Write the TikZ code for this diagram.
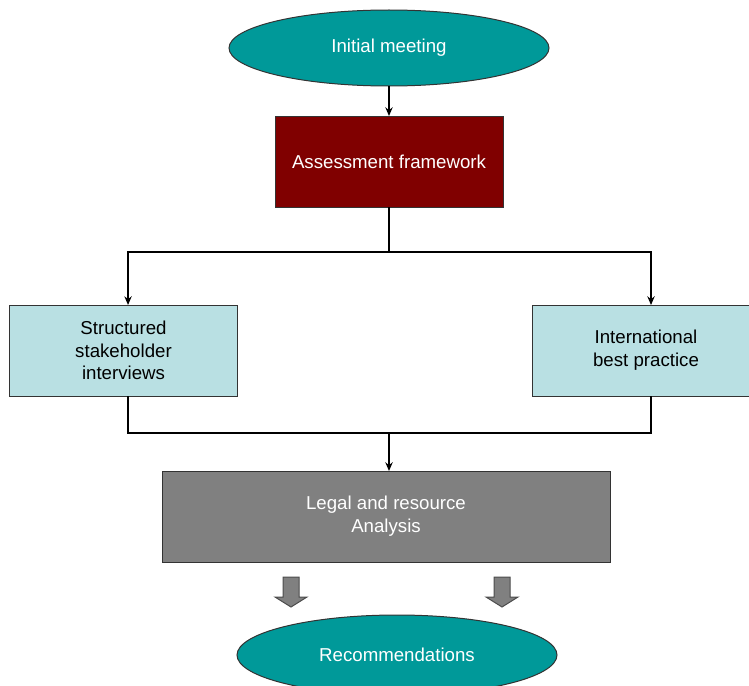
\documentclass[tikz,border=0pt]{standalone}
\usepackage{fontspec}
\setmainfont{Liberation Sans}
\usepackage{tikz}
\usetikzlibrary{arrows.meta,shapes.geometric}

\definecolor{tealfill}{HTML}{009999}
\definecolor{darkred}{HTML}{800000}
\definecolor{paleblue}{HTML}{B9E0E3}
\definecolor{midgray}{HTML}{808080}

\begin{document}
\begin{tikzpicture}[x=0.75pt,y=-0.75pt]
\tikzstyle{oval}=[ellipse,draw=black!80,line width=0.75pt,fill=tealfill,text=white,minimum width=240pt,minimum height=57pt,inner sep=0,outer sep=0,font=\fontsize{14}{17}\selectfont]
\tikzstyle{box}=[rectangle,draw=black!80,line width=0.75pt,minimum height=68.25pt,inner sep=0,outer sep=0,align=center,font=\fontsize{14}{17}\selectfont]
\tikzstyle{conn}=[line width=1.5pt,-{Stealth[length=6.5pt,width=5.5pt]}]
\tikzstyle{line}=[line width=1.5pt]
\tikzstyle{fat}=[draw=black!70,fill=midgray,line width=0.75pt]
\useasboundingbox (0,0) rectangle (749,685);
\node[oval] (init) at (389,48) {Initial meeting};
\node[box,fill=darkred,text=white,minimum width=171pt] (assess) at (389,161.5) {Assessment framework};
\node[box,fill=paleblue,minimum width=171pt] (stake) at (123.5,350.5) {Structured\\stakeholder\\interviews};
\node[box,fill=paleblue,minimum width=170pt] (best) at (646,350.5) {International\\best practice};
\node[box,fill=midgray,text=white,minimum width=336pt] (legal) at (386,516.5) {Legal and resource\\Analysis};
\node[oval,minimum height=60pt] (recom) at (397,655) {Recommendations};
\coordinate (split) at (389,252);
\coordinate (join) at (389,433);
\draw[conn] (init) -- (assess);
\draw[line] (assess) -- (split);
\draw[conn] (split) -| ([xshift=3.4pt]stake.north);
\draw[conn] (split) -| ([xshift=3.75pt]best.north);
\draw[line] ([xshift=3.4pt]stake.south) |- (join);
\draw[line] ([xshift=3.75pt]best.south) |- (join);
\draw[conn] (join) -- (legal.north -| join);
% block arrows
\draw[fat] (283,577) -- (299,577) -- (299,597) -- (307,597) -- (291,607) -- (275,597) -- (283,597) -- cycle;
\draw[fat] (494,577) -- (510,577) -- (510,597) -- (518,597) -- (502,607) -- (486,597) -- (494,597) -- cycle;
\end{tikzpicture}
\end{document}
